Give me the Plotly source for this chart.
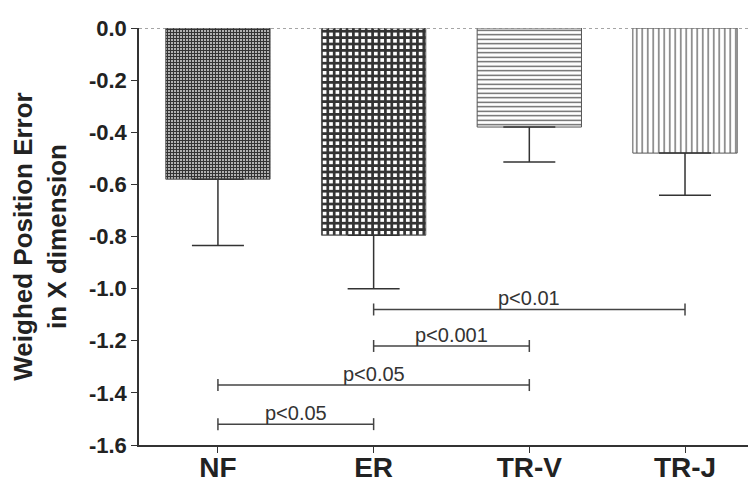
import plotly.graph_objects as go

categories = ["NF", "ER", "TR-V", "TR-J"]
means = [-0.58, -0.795, -0.38, -0.48]
errors = [0.255, 0.205, 0.134, 0.162]

# significance brackets: (from index, to index, y level, label)
sig_from = [1, 1, 0, 0]
sig_to = [3, 2, 2, 1]
sig_y = [-1.08, -1.22, -1.37, -1.52]
sig_labels = ["p<0.01", "p<0.001", "p<0.05", "p<0.05"]

yticks = [0.0, -0.2, -0.4, -0.6, -0.8, -1.0, -1.2, -1.4, -1.6]

patterns = [
    dict(shape="+", size=3, solidity=0.7, fgcolor="#333333", bgcolor="white", fillmode="replace"),
    dict(shape="+", size=6.4, solidity=0.66, fgcolor="#333333", bgcolor="white", fillmode="replace"),
    dict(shape="-", size=4.5, solidity=0.28, fgcolor="#555555", bgcolor="white", fillmode="replace"),
    dict(shape="|", size=5.5, solidity=0.22, fgcolor="#555555", bgcolor="white", fillmode="replace"),
]

FONT = "Liberation Sans, Arial"
xs = list(range(len(categories)))
fig = go.Figure()
for i, c in enumerate(categories):
    fig.add_trace(go.Bar(
        x=[xs[i]], y=[means[i]], width=0.67,
        marker=dict(color="white", pattern=patterns[i],
                    line=dict(color="#555555", width=1)),
        error_y=dict(type="data", symmetric=False, array=[0], arrayminus=[errors[i]],
                     color="#333333", thickness=1.5, width=26),
        showlegend=False, hoverinfo="skip",
    ))

d = 0.023
for a, b, yv, lab in zip(sig_from, sig_to, sig_y, sig_labels):
    fig.add_trace(go.Scatter(
        x=[xs[a], xs[a], None, xs[a], xs[b], None, xs[b], xs[b]],
        y=[yv - d, yv + d, None, yv, yv, None, yv - d, yv + d],
        mode="lines", line=dict(color="#444444", width=1.5),
        showlegend=False, hoverinfo="skip",
    ))
    fig.add_annotation(x=(xs[a] + xs[b]) / 2, y=yv, text=lab, showarrow=False,
                       yanchor="bottom", yshift=-2,
                       font=dict(family=FONT, size=20, color="#333333"))

fig.add_shape(type="line", xref="paper", x0=0, x1=1, yref="y", y0=0, y1=0,
              line=dict(color="#888888", width=1.5, dash="dot"))

# page body has an 8px default margin, so the figure is drawn 8px smaller
fig.update_layout(
    width=748, height=474,
    margin=dict(l=131, r=0, t=20, b=37),
    plot_bgcolor="white", paper_bgcolor="white",
    font=dict(family=FONT, color="#222222"),
    xaxis=dict(
        range=[-0.507, 3.456], tickmode="array", tickvals=xs, ticktext=categories,
        automargin=False,
        showgrid=False, zeroline=False, showline=True, linecolor="#333333", linewidth=1.5,
        ticks="outside", ticklen=6, tickcolor="#333333", ticklabelstandoff=-9,
        tickfont=dict(size=28, family=FONT, color="#222222", weight="bold"),
    ),
    yaxis=dict(
        range=[-1.6, 0], tickmode="array", tickvals=yticks,
        ticktext=[f"{v:.1f}" for v in yticks],
        automargin=False,
        showgrid=False, zeroline=False, showline=True, linecolor="#333333", linewidth=1.5,
        ticks="outside", ticklen=6, tickcolor="#333333",
        tickfont=dict(size=22, family=FONT, color="#222222", weight="bold"),
        title=dict(text="Weighed Position Error<br>in X dimension", standoff=19,
                   font=dict(size=26, family=FONT, color="#222222", weight="bold")),
    ),
)

fig.write_html("out.html")
